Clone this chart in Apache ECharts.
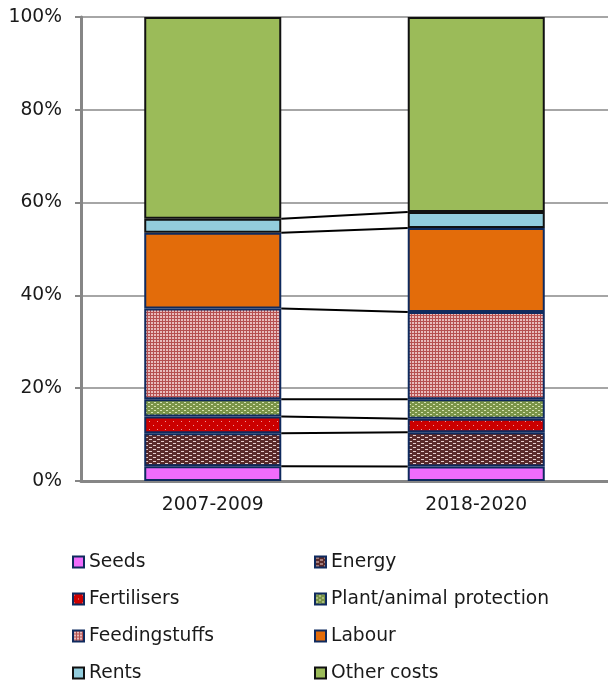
<!DOCTYPE html>
<html>
<head>
<meta charset="utf-8">
<script src="https://cdn.jsdelivr.net/npm/echarts@6/dist/echarts.min.js"></script>
<style>
html,body{margin:0;padding:0;background:#fff;}
#chart{width:608px;height:684px;}
</style>
</head>
<body>
<div id="chart"></div>
<script>
// ---- data ----
const categories = ['2007-2009', '2018-2020'];
const seriesNames = ['Seeds', 'Energy', 'Fertilisers', 'Plant/animal protection', 'Feedingstuffs', 'Labour', 'Rents', 'Other costs'];
const seeds = [3.2, 3.1];
const energy = [7.1, 7.4];
const fertilisers = [3.6, 2.9];
const plantProtection = [3.7, 4.2];
const feedingstuffs = [19.6, 18.8];
const labour = [16.3, 18.1];
const rents = [3.0, 3.5];
const otherCosts = [43.5, 42.0];
const yTickLabels = ['0%', '20%', '40%', '60%', '80%', '100%'];

const values = [seeds, energy, fertilisers, plantProtection, feedingstuffs, labour, rents, otherCosts];

// ---- patterns ----
function makePattern(w, h, base, draw) {
  const c = document.createElement('canvas');
  c.width = w; c.height = h;
  const g = c.getContext('2d');
  g.fillStyle = base; g.fillRect(0, 0, w, h);
  draw(g);
  return { image: c, repeat: 'repeat' };
}
const energyPat = makePattern(8, 4, '#5a2a2a', g => {
  g.fillStyle = '#e6cccc';
  g.fillRect(1, 1, 3, 1);
  g.fillRect(5, 3, 3, 1);
});
const fertPat = makePattern(8, 8, '#cc0000', g => {
  g.fillStyle = '#ee9a9a';
  g.fillRect(1, 1, 1, 1);
  g.fillRect(5, 5, 1, 1);
});
const plantPat = makePattern(6, 4, '#7a9448', g => {
  g.fillStyle = '#d6e4b0';
  g.fillRect(1, 0, 2, 1);
  g.fillRect(4, 2, 2, 1);
});
const feedPat = makePattern(3, 3, '#b55050', g => {
  g.fillStyle = '#e8bcbc';
  g.fillRect(1, 1, 2, 2);
});

const fills = ['#f06cfc', energyPat, fertPat, plantPat, feedPat, '#e36c0a', '#93cddd', '#9bbb59'];
const borders = ['#0f2a5e', '#0f2a5e', '#0f2a5e', '#0f2a5e', '#0f2a5e', '#0f2a5e', '#111111', '#111111'];

const FONT = 'DejaVu Sans';
const FS = 18.7;
const BAR_FRAC = 0.52;

const barSeries = seriesNames.map((name, i) => ({
  name: name,
  type: 'bar',
  stack: 'total',
  barWidth: (BAR_FRAC * 100) + '%',
  data: values[i],
  itemStyle: { color: fills[i], borderColor: borders[i], borderWidth: 2 },
  emphasis: { disabled: true }
}));

// cumulative levels (series lines between bars)
const levels = [];
let c0 = 0, c1 = 0;
for (let i = 0; i < values.length - 1; i++) {
  c0 += values[i][0]; c1 += values[i][1];
  levels.push([0, c0, c1]);
}

const lineSeries = {
  type: 'custom',
  name: 'serieslines',
  encode: { x: 0, y: 1 },
  data: levels,
  z: 5,
  renderItem: function (params, api) {
    const p1 = api.coord([0, api.value(1)]);
    const p2 = api.coord([1, api.value(2)]);
    const hw = api.size([1, 0])[0] * BAR_FRAC / 2;
    return {
      type: 'line',
      shape: { x1: p1[0] + hw, y1: p1[1], x2: p2[0] - hw, y2: p2[1] },
      style: { stroke: '#000', lineWidth: 2 }
    };
  }
};

const legendCommon = {
  orient: 'vertical',
  itemWidth: 11,
  itemHeight: 11,
  itemGap: 17,
  padding: 0,
  icon: 'rect',
  selectedMode: false,
  textStyle: { fontFamily: FONT, fontSize: FS, color: '#1a1a1a', lineHeight: 20 }
};

const option = {
  animation: false,
  backgroundColor: '#fff',
  textStyle: { fontFamily: FONT },
  grid: { left: 81, right: 0, top: 17, bottom: 203, containLabel: false },
  legend: [
    Object.assign({ left: 72, top: 552, data: ['Seeds', 'Fertilisers', 'Feedingstuffs', 'Rents'] }, legendCommon),
    Object.assign({ left: 314, top: 552, data: ['Energy', 'Plant/animal protection', 'Labour', 'Other costs'] }, legendCommon)
  ],
  xAxis: {
    type: 'category',
    data: categories,
    axisTick: { show: false },
    axisLine: { lineStyle: { color: '#868686', width: 3 } },
    axisLabel: { fontFamily: FONT, fontSize: FS, color: '#1a1a1a', margin: 15 }
  },
  yAxis: {
    type: 'value',
    min: 0, max: 100, interval: 20,
    axisLine: { show: true, lineStyle: { color: '#868686', width: 3 } },
    axisTick: { show: true, length: 6, lineStyle: { color: '#868686', width: 2 } },
    splitLine: { lineStyle: { color: '#a6a6a6', width: 2 } },
    axisLabel: {
      fontFamily: FONT, fontSize: FS, color: '#1a1a1a', margin: 19,
      formatter: function (v) { return yTickLabels[Math.round(v / 20)]; }
    }
  },
  series: barSeries.concat([lineSeries])
};

const chart = echarts.init(document.getElementById('chart'), null, { renderer: 'canvas' });
chart.setOption(option);
</script>
</body>
</html>
